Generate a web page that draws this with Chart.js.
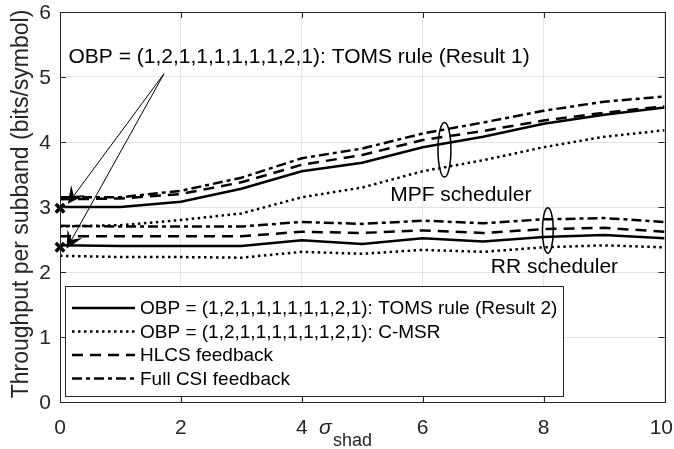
<!DOCTYPE html>
<html>
<head>
<meta charset="utf-8">
<script src="https://cdn.jsdelivr.net/npm/chart.js@4.4.1/dist/chart.umd.min.js"></script>
<style>
  html, body { margin: 0; padding: 0; background: #fff; }
  #wrap { width: 674px; height: 449px; }
</style>
</head>
<body>
<div id="wrap"><canvas id="chart"></canvas></div>
<script>
// sigma_shad values on the x axis
const sigmaShad = [0, 1, 2, 3, 4, 5, 6, 7, 8, 9, 10];

// MPF scheduler curves
const mpfToms = [3.0, 3.0, 3.08, 3.28, 3.55, 3.68, 3.92, 4.08, 4.28, 4.42, 4.53];
const mpfCmsr = [2.7, 2.72, 2.8, 2.9, 3.15, 3.3, 3.55, 3.72, 3.92, 4.08, 4.18];
const mpfHlcs = [3.12, 3.13, 3.2, 3.38, 3.65, 3.8, 4.03, 4.17, 4.33, 4.45, 4.55];
const mpfFull = [3.15, 3.15, 3.25, 3.45, 3.75, 3.9, 4.13, 4.3, 4.48, 4.62, 4.7];

// RR scheduler curves
const rrToms = [2.41, 2.4, 2.4, 2.4, 2.49, 2.43, 2.52, 2.47, 2.54, 2.57, 2.52];
const rrCmsr = [2.25, 2.23, 2.23, 2.22, 2.31, 2.28, 2.34, 2.31, 2.38, 2.41, 2.38];
const rrHlcs = [2.55, 2.55, 2.55, 2.55, 2.62, 2.6, 2.64, 2.6, 2.66, 2.68, 2.62];
const rrFull = [2.71, 2.7, 2.7, 2.7, 2.77, 2.74, 2.79, 2.75, 2.81, 2.83, 2.77];

const xTicks = [0, 2, 4, 6, 8, 10];
const yTicks = [0, 1, 2, 3, 4, 5, 6];

const legendLabels = [
  'OBP = (1,2,1,1,1,1,1,1,2,1): TOMS rule (Result 2)',
  'OBP = (1,2,1,1,1,1,1,1,2,1): C-MSR',
  'HLCS feedback',
  'Full CSI feedback'
];

// Result 1 markers and annotation
const resultOneX = [0, 0];
const resultOneY = [2.98, 2.38];
const noteText = 'OBP = (1,2,1,1,1,1,1,1,2,1): TOMS rule (Result 1)';
const noteAt = { x: 0.14, y: 5.3 };
const arrowFrom = { x: 1.72, y: 5.05 };
const arrowTips = [{ x: 0.13, y: 3.05 }, { x: 0.11, y: 2.36 }];

// scheduler ellipses and labels
const groupNames = ['MPF scheduler', 'RR scheduler'];
const groupLabelAt = [{ x: 6.63, y: 3.18 }, { x: 8.18, y: 2.07 }];
const groupEllipses = [
  { x: 6.36, y: 3.88, rx: 0.107, ry: 0.42 },
  { x: 8.07, y: 2.64, rx: 0.09, ry: 0.35 }
];

const FONT = '"Liberation Sans", Arial, Helvetica, sans-serif';
const styles = [
  { dash: [], width: 2.5 },
  { dash: [2.5, 3.5], width: 2.5 },
  { dash: [11, 7], width: 2.5 },
  { dash: [10, 4, 4, 4], width: 2.5 }
];

function lineSet(label, values, s) {
  return {
    label: label,
    data: sigmaShad.map((x, i) => ({ x: x, y: values[i] })),
    borderColor: '#000',
    borderWidth: s.width,
    borderDash: s.dash,
    pointRadius: 0,
    tension: 0,
    fill: false
  };
}

const datasets = [
  lineSet('mpf toms', mpfToms, styles[0]),
  lineSet('mpf cmsr', mpfCmsr, styles[1]),
  lineSet('mpf hlcs', mpfHlcs, styles[2]),
  lineSet('mpf full', mpfFull, styles[3]),
  lineSet('rr toms', rrToms, styles[0]),
  lineSet('rr cmsr', rrCmsr, styles[1]),
  lineSet('rr hlcs', rrHlcs, styles[2]),
  lineSet('rr full', rrFull, styles[3]),
  {
    label: 'result 1',
    data: resultOneX.map((x, i) => ({ x: x, y: resultOneY[i] })),
    showLine: false,
    pointStyle: 'crossRot',
    pointRadius: 6,
    borderWidth: 3.5,
    borderColor: '#000',
    clip: false
  }
];

function arrow(ctx, x0, y0, x1, y1) {
  const ang = Math.atan2(y1 - y0, x1 - x0);
  const len = 17, half = 8.5, notch = 10;
  ctx.beginPath();
  ctx.moveTo(x0, y0);
  ctx.lineTo(x1 - Math.cos(ang) * notch, y1 - Math.sin(ang) * notch);
  ctx.lineWidth = 1;
  ctx.stroke();
  const bx = x1 - Math.cos(ang) * len, by = y1 - Math.sin(ang) * len;
  const nx = -Math.sin(ang), ny = Math.cos(ang);
  ctx.beginPath();
  ctx.moveTo(x1, y1);
  ctx.lineTo(bx + nx * half, by + ny * half);
  ctx.lineTo(x1 - Math.cos(ang) * notch, y1 - Math.sin(ang) * notch);
  ctx.lineTo(bx - nx * half, by - ny * half);
  ctx.closePath();
  ctx.fill();
}

const decor = {
  id: 'decor',
  afterDatasetsDraw(chart) {
    const ctx = chart.ctx;
    const xs = chart.scales.x, ys = chart.scales.y;
    const a = chart.chartArea;
    ctx.save();

    // inner tick marks and axes box
    ctx.strokeStyle = '#262626';
    ctx.lineWidth = 1;
    ctx.beginPath();
    xTicks.forEach(t => {
      const px = Math.round(xs.getPixelForValue(t)) + 0.5;
      ctx.moveTo(px, a.bottom); ctx.lineTo(px, a.bottom - 6);
      ctx.moveTo(px, a.top); ctx.lineTo(px, a.top + 6);
    });
    yTicks.forEach(t => {
      const py = Math.round(ys.getPixelForValue(t)) + 0.5;
      ctx.moveTo(a.left, py); ctx.lineTo(a.left + 6, py);
      ctx.moveTo(a.right, py); ctx.lineTo(a.right - 6, py);
    });
    ctx.stroke();
    ctx.strokeRect(Math.round(a.left) + 0.5, Math.round(a.top) + 0.5,
      Math.round(a.right - a.left), Math.round(a.bottom - a.top));

    // tick labels (kept inside the canvas at the right edge)
    ctx.fillStyle = '#262626';
    ctx.font = '21px ' + FONT;
    ctx.textBaseline = 'middle';
    ctx.textAlign = 'center';
    xTicks.forEach(t => {
      const s = String(t);
      const w = ctx.measureText(s).width;
      const px = Math.min(xs.getPixelForValue(t), chart.width - 1 - w / 2);
      ctx.fillText(s, px, a.bottom + 26);
    });
    ctx.textAlign = 'right';
    yTicks.forEach(t => ctx.fillText(String(t), a.left - 9, ys.getPixelForValue(t) + 1));

    // annotation text and arrows
    ctx.strokeStyle = '#000';
    ctx.fillStyle = '#000';
    ctx.font = '21px ' + FONT;
    ctx.textAlign = 'left';
    ctx.fillText(noteText, xs.getPixelForValue(noteAt.x), ys.getPixelForValue(noteAt.y));
    arrowTips.forEach(t => {
      arrow(ctx, xs.getPixelForValue(arrowFrom.x), ys.getPixelForValue(arrowFrom.y),
        xs.getPixelForValue(t.x), ys.getPixelForValue(t.y));
    });

    // scheduler ellipses and labels
    ctx.lineWidth = 1.5;
    groupEllipses.forEach(e => {
      const cx = xs.getPixelForValue(e.x), cy = ys.getPixelForValue(e.y);
      const rx = xs.getPixelForValue(e.x + e.rx) - cx;
      const ry = cy - ys.getPixelForValue(e.y + e.ry);
      ctx.beginPath();
      ctx.ellipse(cx, cy, rx, ry, 0, 0, Math.PI * 2);
      ctx.stroke();
    });
    ctx.textAlign = 'center';
    groupNames.forEach((n, i) => {
      ctx.fillText(n, xs.getPixelForValue(groupLabelAt[i].x), ys.getPixelForValue(groupLabelAt[i].y));
    });

    // legend box
    const lx = 65.5, ly = 286.5, lw = 498, lh = 110;
    ctx.fillStyle = '#fff';
    ctx.fillRect(lx, ly, lw, lh);
    ctx.strokeStyle = '#262626';
    ctx.lineWidth = 1;
    ctx.strokeRect(lx, ly, lw, lh);
    ctx.fillStyle = '#000';
    ctx.strokeStyle = '#000';
    ctx.font = '19px ' + FONT;
    ctx.textAlign = 'left';
    legendLabels.forEach((lab, i) => {
      const y = 308 + i * 23.5;
      ctx.beginPath();
      ctx.lineWidth = styles[i].width;
      ctx.setLineDash(styles[i].dash);
      ctx.moveTo(72, y); ctx.lineTo(135, y);
      ctx.stroke();
      ctx.setLineDash([]);
      ctx.fillText(lab, 140, y + 1);
    });

    // axis titles
    ctx.fillStyle = '#262626';
    ctx.font = '23px ' + FONT;
    ctx.save();
    ctx.translate(22, 204);
    ctx.rotate(-Math.PI / 2);
    ctx.textAlign = 'center';
    ctx.fillText('Throughput per subband (bits/symbol)', 0, 0);
    ctx.restore();
    ctx.textAlign = 'left';
    ctx.font = 'italic 21px ' + FONT;
    ctx.fillText('\u03c3', 319, 428);
    ctx.font = '18px ' + FONT;
    ctx.fillText('shad', 333, 441);
    ctx.restore();
  }
};

new Chart(document.getElementById('chart'), {
  type: 'line',
  data: { datasets: datasets },
  options: {
    responsive: true,
    maintainAspectRatio: false,
    animation: false,
    layout: { padding: { top: 12, right: 9, left: 0, bottom: 0 } },
    plugins: { legend: { display: false }, tooltip: { enabled: false } },
    scales: {
      x: {
        type: 'linear',
        min: 0,
        max: 10,
        afterBuildTicks: s => { s.ticks = xTicks.map(v => ({ value: v })); },
        afterFit: s => { s.height = 47; },
        grid: { color: '#e3e3e3', drawTicks: false },
        border: { display: false },
        ticks: { display: false }
      },
      y: {
        type: 'linear',
        min: 0,
        max: 6,
        afterBuildTicks: s => { s.ticks = yTicks.map(v => ({ value: v })); },
        afterFit: s => { s.width = 60; },
        grid: { color: '#e3e3e3', drawTicks: false },
        border: { display: false },
        ticks: { display: false }
      }
    }
  },
  plugins: [decor]
});
</script>
</body>
</html>
